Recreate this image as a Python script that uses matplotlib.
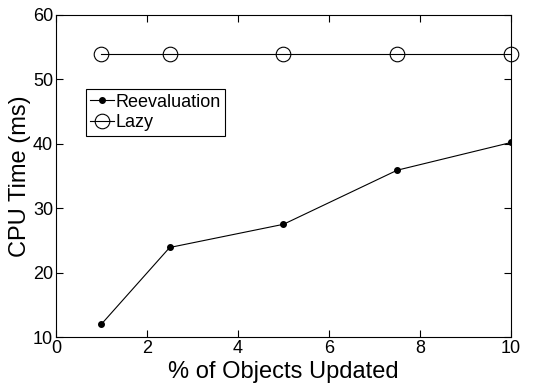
import matplotlib
matplotlib.use('Agg')
import matplotlib.pyplot as plt

# Data
pct_updated = [1, 2.5, 5, 7.5, 10]
reevaluation = [12.0, 23.9, 27.5, 35.9, 40.2]
lazy = [53.9, 53.9, 53.9, 53.9, 53.9]

plt.rcParams['font.family'] = ['Liberation Sans', 'DejaVu Sans']

fig = plt.figure(figsize=(5.48, 3.83), dpi=100)
ax = fig.add_axes([0.102, 0.12, 0.8305, 0.841])

ax.plot(pct_updated, reevaluation, color='black', lw=0.8, marker='o',
        markersize=4, label='Reevaluation')
ax.plot(pct_updated, lazy, color='black', lw=0.8, marker='o', markersize=10.5,
        markerfacecolor='none', markeredgewidth=0.8, label='Lazy', clip_on=False)

ax.set_xlim(0, 10)
ax.set_ylim(10, 60)
ax.set_xticks([0, 2, 4, 6, 8, 10])
ax.set_yticks([10, 20, 30, 40, 50, 60])
ax.tick_params(direction='in', top=True, right=True, labelsize=13, length=5,
               width=0.8, pad=2)
for s in ax.spines.values():
    s.set_linewidth(0.8)

ax.set_xlabel('% of Objects Updated', fontsize=17, labelpad=3)
ax.set_ylabel('CPU Time (ms)', fontsize=17, labelpad=1)

leg = ax.legend(loc='upper left', bbox_to_anchor=(0.066, 0.77), fontsize=13,
                fancybox=False, edgecolor='black', framealpha=1,
                handlelength=1.3, handletextpad=0.1, borderpad=0.25,
                labelspacing=0.2, borderaxespad=0)
leg.get_frame().set_linewidth(0.8)

fig.savefig('out.png', dpi=100)
